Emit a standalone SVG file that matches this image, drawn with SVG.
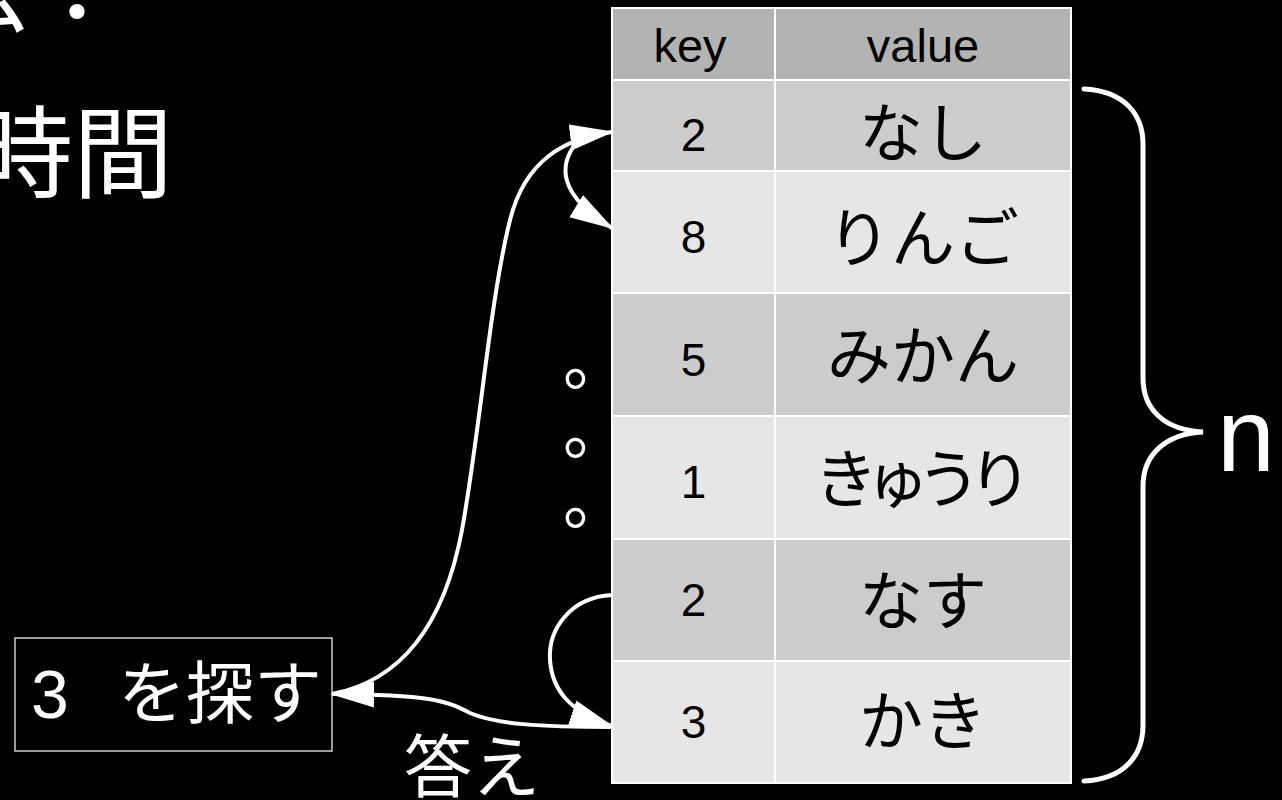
<svg xmlns="http://www.w3.org/2000/svg" width="1282" height="800" viewBox="0 0 1282 800">
<defs>
<style>
.jp{font-family:"Noto Sans CJK JP","Noto Sans CJK SC",sans-serif;fill:#fff}
.hd{font-family:"Liberation Sans",Arial,sans-serif;font-size:47px;fill:#000;text-anchor:middle}
.num{font-family:"Liberation Sans",Arial,sans-serif;font-size:46px;fill:#000;text-anchor:middle}
.val{font-family:"Noto Sans CJK JP","Noto Sans CJK SC",sans-serif;font-size:64px;fill:#000;text-anchor:middle}
.grid{stroke:#fff;stroke-width:2;fill:none}
.conn{fill:none;stroke:#fff;stroke-width:4}
.c1{fill:#cccccc}
.c2{fill:#e6e6e6}
</style>
<marker id="ah" markerUnits="userSpaceOnUse" markerWidth="44" markerHeight="28" viewBox="0 0 44 28" refX="42" refY="14" orient="auto">
<path d="M0,1 L44,14 L0,27 z" fill="#fff"/>
</marker>
</defs>
<rect width="1282" height="800" fill="#000"/>

<g id="title">
<text class="jp" x="-173" y="24" font-size="100">方法：</text>
<text class="jp" x="-27" y="190" font-size="100">時間</text>
</g>

<g id="table">
<rect x="612" y="8" width="459" height="72" fill="#b3b3b3"/>
<rect class="c1" x="612" y="80" width="459" height="91"/>
<rect class="c2" x="612" y="171" width="459" height="122"/>
<rect class="c1" x="612" y="293" width="459" height="123"/>
<rect class="c2" x="612" y="416" width="459" height="123"/>
<rect class="c1" x="612" y="539" width="459" height="122"/>
<rect class="c2" x="612" y="661" width="459" height="122"/>
<path class="grid" d="M612,8 H1071 V783 H612 Z M775,8 V783 M612,80 H1071 M612,171 H1071 M612,293 H1071 M612,416 H1071 M612,539 H1071 M612,661 H1071"/>
<g id="header">
<text class="hd" x="690" y="62">key</text>
<text class="hd" x="923" y="62">value</text>
</g>
<g id="row1"><text class="num" x="693.5" y="151">2</text><text class="val" x="923" y="156">なし</text></g>
<g id="row2"><text class="num" x="693.5" y="253">8</text><text class="val" x="923" y="261">りんご</text></g>
<g id="row3"><text class="num" x="693.5" y="376">5</text><text class="val" x="923" y="379">みかん</text></g>
<g id="row4"><text class="num" x="693.5" y="498">1</text><text class="val" x="923" y="502" font-size="58" textLength="218" lengthAdjust="spacing">きゅうり</text></g>
<g id="row5"><text class="num" x="693.5" y="616">2</text><text class="val" x="923" y="624">なす</text></g>
<g id="row6"><text class="num" x="693.5" y="738">3</text><text class="val" x="923" y="744">かき</text></g>
</g>

<g id="ellipsis">
<text class="jp" x="563" y="384" font-size="64">。</text>
<text class="jp" x="563" y="453" font-size="64">。</text>
<text class="jp" x="563" y="523" font-size="64">。</text>
</g>

<g id="search-box">
<rect x="15" y="638" width="317" height="113" fill="#000" stroke="#cfcfcf" stroke-width="1.5"/>
<text class="jp" x="31" y="718" font-size="68" xml:space="preserve"><tspan font-family="Liberation Sans, sans-serif">3 </tspan><tspan x="118">を探す</tspan></text>
</g>

<g id="brace">
<path d="M1084,89 C1125,91 1143,115 1143,144 L1143,378 C1143,410 1165,430 1203,432 C1165,434 1143,455 1143,486 L1143,725 C1143,755 1125,779 1084,781" fill="none" stroke="#fff" stroke-width="5" stroke-linecap="round"/>
<text x="1217" y="471" font-family="Liberation Sans, Arial, sans-serif" font-size="104" fill="#fff">n</text>
</g>

<g id="connectors">
<path class="conn" marker-end="url(#ah)" d="M332,694 C405,680 445,620 462,530 C480,430 490,300 510,220 C525,160 565,138 612,132"/>
<path class="conn" marker-end="url(#ah)" d="M577,142 C558,165 558,195 612,228"/>
<path class="conn" marker-end="url(#ah)" d="M612,595 C570,597 548,630 550,660 C552,690 570,712 612,726"/>
<path class="conn" marker-end="url(#ah)" d="M612,727 C540,727 495,724 470,713 C445,700 430,695 332,694"/>
<text class="jp" x="404" y="792" font-size="68">答え</text>
</g>
</svg>
